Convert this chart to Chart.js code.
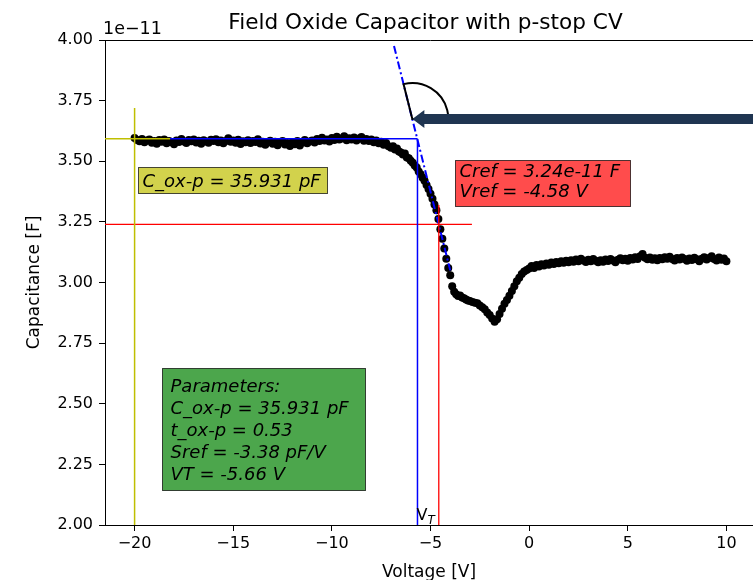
<!DOCTYPE html>
<html>
<head>
<meta charset="utf-8">
<script src="https://cdn.jsdelivr.net/npm/chart.js@4/dist/chart.umd.min.js"></script>
<style>
  html, body { margin: 0; padding: 0; overflow: hidden; background: #fff; }
  #wrap { width: 753px; height: 580px; overflow: hidden; position: relative; }
  #cvChart { position: absolute; left: 0; top: 0; }
</style>
</head>
<body>
<div id="wrap"><canvas id="cvChart" width="790" height="580"></canvas></div>
<script>
// measured CV sweep (capacitance in units of 1e-11 F)
const voltages = [
  -20, -19.875, -19.75, -19.625, -19.5, -19.375, -19.25, -19.125,
  -19, -18.875, -18.75, -18.625, -18.5, -18.375, -18.25, -18.125,
  -18, -17.875, -17.75, -17.625, -17.5, -17.375, -17.25, -17.125,
  -17, -16.875, -16.75, -16.625, -16.5, -16.375, -16.25, -16.125,
  -16, -15.875, -15.75, -15.625, -15.5, -15.375, -15.25, -15.125,
  -15, -14.875, -14.75, -14.625, -14.5, -14.375, -14.25, -14.125,
  -14, -13.875, -13.75, -13.625, -13.5, -13.375, -13.25, -13.125,
  -13, -12.875, -12.75, -12.625, -12.5, -12.375, -12.25, -12.125,
  -12, -11.875, -11.75, -11.625, -11.5, -11.375, -11.25, -11.125,
  -11, -10.875, -10.75, -10.625, -10.5, -10.375, -10.25, -10.125,
  -10, -9.875, -9.75, -9.625, -9.5, -9.375, -9.25, -9.125,
  -9, -8.875, -8.75, -8.625, -8.5, -8.375, -8.25, -8.125,
  -8, -7.875, -7.75, -7.625, -7.5, -7.375, -7.25, -7.125,
  -7, -6.9, -6.8, -6.7, -6.6, -6.5, -6.4, -6.3, -6.2, -6.1,
  -6, -5.9, -5.8, -5.7, -5.6, -5.5, -5.4, -5.3, -5.2, -5.1,
  -5, -4.9, -4.8, -4.7, -4.6, -4.5, -4.4, -4.3, -4.2, -4.1,
  -4, -3.9, -3.8, -3.7, -3.6, -3.5, -3.4, -3.3, -3.2, -3.1,
  -3, -2.875, -2.75, -2.625, -2.5, -2.375, -2.25, -2.125,
  -2, -1.875, -1.75, -1.625, -1.5, -1.375, -1.25, -1.125,
  -1, -0.875, -0.75, -0.625, -0.5, -0.375, -0.25, -0.125,
  0, 0.125, 0.25, 0.375, 0.5, 0.625, 0.75, 0.875,
  1, 1.125, 1.25, 1.375, 1.5, 1.625, 1.75, 1.875,
  2, 2.125, 2.25, 2.375, 2.5, 2.625, 2.75, 2.875,
  3, 3.125, 3.25, 3.375, 3.5, 3.625, 3.75, 3.875,
  4, 4.125, 4.25, 4.375, 4.5, 4.625, 4.75, 4.875,
  5, 5.125, 5.25, 5.375, 5.5, 5.625, 5.75, 5.875,
  6, 6.125, 6.25, 6.375, 6.5, 6.625, 6.75, 6.875,
  7, 7.125, 7.25, 7.375, 7.5, 7.625, 7.75, 7.875,
  8, 8.125, 8.25, 8.375, 8.5, 8.625, 8.75, 8.875,
  9, 9.125, 9.25, 9.375, 9.5, 9.625, 9.75, 9.875,
  10
];
const capacitance = [
  3.596, 3.588, 3.582, 3.592, 3.578, 3.586, 3.590, 3.576,
  3.584, 3.572, 3.588, 3.580, 3.590, 3.574, 3.583, 3.578,
  3.570, 3.586, 3.579, 3.592, 3.581, 3.575, 3.588, 3.582,
  3.590, 3.577, 3.585, 3.572, 3.587, 3.581, 3.576, 3.589,
  3.583, 3.591, 3.578, 3.586, 3.574, 3.584, 3.595, 3.580,
  3.586, 3.576, 3.589, 3.571, 3.582, 3.578, 3.587, 3.575,
  3.584, 3.579, 3.591, 3.573, 3.580, 3.568, 3.578, 3.585,
  3.572, 3.580, 3.566, 3.577, 3.583, 3.569, 3.575, 3.563,
  3.578, 3.570, 3.584, 3.565, 3.576, 3.588, 3.574, 3.581,
  3.586, 3.577, 3.592, 3.583, 3.597, 3.586, 3.590, 3.581,
  3.596, 3.588, 3.601, 3.590, 3.594, 3.603, 3.587, 3.595,
  3.590, 3.598, 3.586, 3.594, 3.600, 3.585, 3.592, 3.583,
  3.590, 3.578, 3.586, 3.574, 3.580, 3.568, 3.575, 3.562,
  3.556, 3.562, 3.548, 3.553, 3.540, 3.536, 3.528, 3.532, 3.515, 3.512,
  3.502, 3.494, 3.482, 3.474, 3.458, 3.446, 3.432, 3.420, 3.402, 3.386,
  3.366, 3.345, 3.322, 3.298, 3.262, 3.220, 3.180, 3.140, 3.098, 3.060,
  3.030, 2.985, 2.962, 2.952, 2.944, 2.946, 2.938, 2.935, 2.930, 2.926,
  2.924, 2.920, 2.916, 2.914, 2.905, 2.898, 2.890, 2.876,
  2.866, 2.852, 2.838, 2.848, 2.870, 2.892, 2.912, 2.928,
  2.945, 2.965, 2.985, 3.005, 3.020, 3.035, 3.045, 3.052,
  3.058, 3.068, 3.060, 3.072, 3.066, 3.075, 3.070, 3.078,
  3.073, 3.082, 3.076, 3.085, 3.079, 3.088, 3.081, 3.090,
  3.084, 3.092, 3.086, 3.095, 3.088, 3.098, 3.091, 3.085,
  3.094, 3.088, 3.097, 3.090, 3.083, 3.092, 3.086, 3.095,
  3.089, 3.097, 3.091, 3.084, 3.094, 3.100, 3.092, 3.098,
  3.090, 3.101, 3.095, 3.104, 3.097, 3.108, 3.118, 3.102,
  3.096, 3.103, 3.094, 3.100, 3.092, 3.101, 3.096, 3.104,
  3.098, 3.106, 3.097, 3.091, 3.101, 3.095, 3.103, 3.097,
  3.090, 3.099, 3.093, 3.102, 3.096, 3.088, 3.098, 3.104,
  3.095, 3.101, 3.108, 3.097, 3.091, 3.103, 3.094, 3.099,
  3.088
];

const xTicks = [-20, -15, -10, -5, 0, 5, 10];
const yTicks = [2.00, 2.25, 2.50, 2.75, 3.00, 3.25, 3.50, 3.75, 4.00];

// extracted parameters
const coxP = 3.5931;   // C_ox-p (1e-11 F)
const vT = -5.66;
const cRef = 3.24;
const vRef = -4.58;
// reference tangent segment (dash-dot)
const tangentV = [-6.85, -4.0];
const tangentC = [3.975, 3.05];
// guide line extents
const yellowV = [-20, -20], yellowVC = [2.0, 3.72];
const yellowH = [-21.5, -18.2];
const blueH = [-18.2, vT];
const redH = [-21.5, -2.9];
const redVC = [2.0, 3.32];

const FONT = '"DejaVu Sans", "Liberation Sans", sans-serif';

function seg(xs, ys, color, width, dash) {
  return {
    data: xs.map((x, i) => ({ x, y: ys[i] })),
    showLine: true, borderColor: color, borderWidth: width,
    borderDash: dash || [], pointRadius: 0, order: 1
  };
}

// text boxes: anchor (top-left) in data units, size/offsets in px
const boxes = [
  { x: -19.83, y: 3.476, w: 189, h: 26, tx: 4, ty: 19, ls: 0,
    bg: 'rgba(191,191,0,0.7)', lines: ['C_ox-p = 35.931 pF'] },
  { x: -3.75, y: 3.505, w: 175, h: 46, tx: 4, ty: 16.5, ls: 20,
    bg: 'rgba(255,0,0,0.7)', lines: ['Cref = 3.24e-11 F', 'Vref = -4.58 V'] },
  { x: -18.61, y: 2.647, w: 203, h: 122, tx: 8, ty: 23, ls: 22,
    bg: 'rgba(0,128,0,0.7)',
    lines: ['Parameters:', 'C_ox-p = 35.931 pF', 't_ox-p = 0.53', 'Sref = -3.38 pF/V', 'VT = -5.66 V'] }
];
const arrowTip = { x: -5.92, y: 3.674 };

const decorations = {
  id: 'decorations',
  afterDatasetsDraw(chart) {
    const { ctx, chartArea: a, scales: { x, y } } = chart;
    ctx.save();
    // top spine
    ctx.strokeStyle = '#000';
    ctx.lineWidth = 1;
    ctx.beginPath();
    ctx.moveTo(a.left, a.top + 0.5); ctx.lineTo(a.right, a.top + 0.5);
    ctx.stroke();

    // text boxes
    ctx.font = 'italic 18px ' + FONT;
    ctx.textBaseline = 'alphabetic';
    boxes.forEach(b => {
      const left = Math.round(x.getPixelForValue(b.x)) + 0.5;
      const top = Math.round(y.getPixelForValue(b.y)) + 0.5;
      ctx.fillStyle = b.bg;
      ctx.fillRect(left, top, b.w, b.h);
      ctx.strokeStyle = 'rgba(0,0,0,0.7)';
      ctx.strokeRect(left, top, b.w, b.h);
      ctx.fillStyle = '#000';
      b.lines.forEach((t, i) => ctx.fillText(t, left + b.tx, top + b.ty + i * b.ls));
    });

    // V_T label
    const vx = x.getPixelForValue(vT);
    ctx.font = '16px ' + FONT;
    ctx.fillText('V', vx - 1, a.bottom - 5);
    ctx.font = 'italic 12px ' + FONT;
    ctx.fillText('T', vx + 10, a.bottom - 1);

    // angle wedge + arrow
    const tx = x.getPixelForValue(arrowTip.x), ty = y.getPixelForValue(arrowTip.y);
    const p0x = x.getPixelForValue(tangentV[0]), p0y = y.getPixelForValue(tangentC[0]);
    const ang = Math.atan2(p0y - ty, p0x - tx);
    ctx.strokeStyle = '#000';
    ctx.lineWidth = 2;
    ctx.beginPath();
    ctx.moveTo(tx, ty);
    ctx.lineTo(tx + 36 * Math.cos(ang), ty + 36 * Math.sin(ang));
    ctx.arc(tx, ty, 36, ang, 0);
    ctx.closePath();
    ctx.stroke();

    ctx.fillStyle = '#1f3551';
    ctx.beginPath();
    ctx.moveTo(tx, ty);
    ctx.lineTo(tx + 12, ty - 9);
    ctx.lineTo(tx + 12, ty - 5);
    ctx.lineTo(chart.width + 5, ty - 5);
    ctx.lineTo(chart.width + 5, ty + 5);
    ctx.lineTo(tx + 12, ty + 5);
    ctx.lineTo(tx + 12, ty + 9);
    ctx.closePath();
    ctx.fill();
    ctx.restore();
  },
  afterDraw(chart) {
    const { ctx, chartArea: a } = chart;
    ctx.save();
    ctx.fillStyle = '#000';
    ctx.font = '21.6px ' + FONT;
    ctx.textAlign = 'center';
    ctx.textBaseline = 'alphabetic';
    ctx.fillText('Field Oxide Capacitor with p-stop CV', 425.5, 29);
    ctx.font = '17px ' + FONT;
    ctx.fillText('Voltage [V]', 429, 577);
    ctx.font = '17.5px ' + FONT;
    ctx.textAlign = 'left';
    ctx.fillText('1e\u221211', a.left - 2, 34);
    ctx.font = '17px ' + FONT;
    ctx.translate(35, (a.top + a.bottom) / 2);
    ctx.rotate(-Math.PI / 2);
    ctx.textAlign = 'center';
    ctx.textBaseline = 'middle';
    ctx.fillText('Capacitance [F]', 0, 0);
    ctx.restore();
  }
};

const canvas = document.getElementById('cvChart');
new Chart(canvas.getContext('2d'), {
  type: 'scatter',
  data: {
    datasets: [
      {
        data: voltages.map((v, i) => ({ x: v, y: capacitance[i] })),
        pointRadius: 4, pointBackgroundColor: '#000', pointBorderWidth: 0,
        showLine: false, order: 10
      },
      seg(yellowV, yellowVC, '#bfbf00', 1.5),
      seg(yellowH, [coxP, coxP], '#bfbf00', 1.5),
      seg(blueH, [coxP, coxP], '#0000ff', 1.5),
      seg([vT, vT], [2.0, coxP], '#0000ff', 1.5),
      seg(redH, [cRef, cRef], '#ff0000', 1.3),
      seg([vRef, vRef], redVC, '#ff0000', 1.3),
      seg(tangentV, tangentC, '#0000ff', 2, [8, 3, 2, 3])
    ]
  },
  options: {
    responsive: false,
    animation: false,
    layout: { padding: { top: 40, right: 34, left: 0, bottom: 0 } },
    plugins: { legend: { display: false }, tooltip: { enabled: false } },
    scales: {
      x: {
        type: 'linear', min: -21.5, max: 11.5,
        afterFit: s => { s.height = 55; },
        afterBuildTicks: s => { s.ticks = xTicks.map(v => ({ value: v })); },
        grid: { drawOnChartArea: false, tickLength: 6, color: '#000' },
        border: { color: '#000' },
        ticks: {
          color: '#000', padding: 3, maxRotation: 0,
          font: { family: FONT, size: 16 },
          callback: v => (v < 0 ? '\u2212' : '') + Math.abs(v)
        }
      },
      y: {
        min: 2, max: 4,
        afterFit: s => { s.width = 105; },
        afterBuildTicks: s => { s.ticks = yTicks.map(v => ({ value: v })); },
        grid: { drawOnChartArea: false, tickLength: 6, color: '#000' },
        border: { color: '#000' },
        ticks: {
          color: '#000', padding: 6,
          font: { family: FONT, size: 16 },
          callback: v => v.toFixed(2)
        }
      }
    }
  },
  plugins: [decorations]
});
</script>
</body>
</html>
